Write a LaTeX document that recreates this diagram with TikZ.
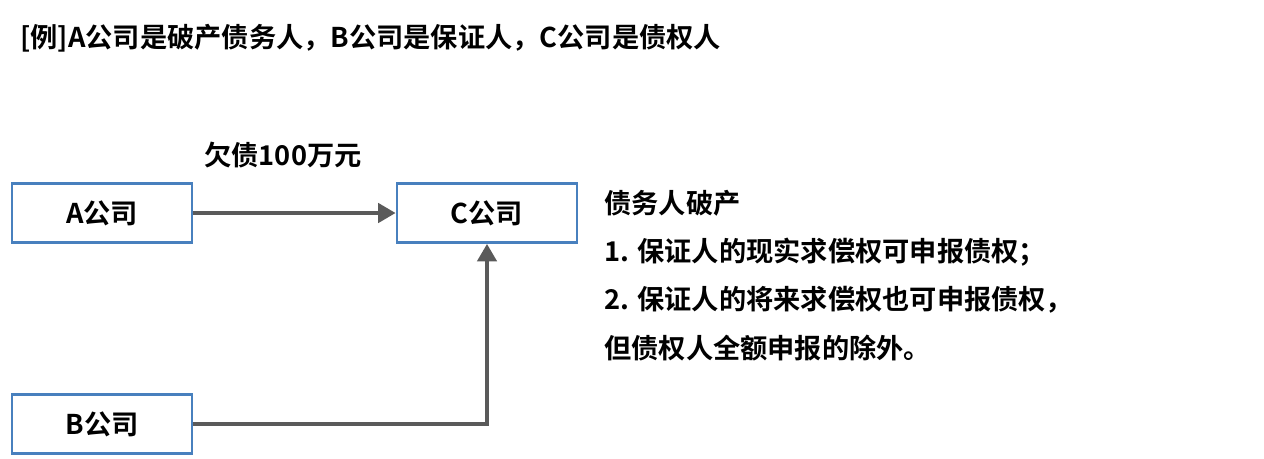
\documentclass[tikz,border=0pt]{standalone}
\usepackage{fontspec}
\setmainfont{Noto Sans CJK SC}[BoldFont={Noto Sans CJK SC Bold}]
\usetikzlibrary{arrows.meta}
\definecolor{boxblue}{RGB}{72,128,190}
\definecolor{linegray}{RGB}{90,90,90}
\begin{document}
\begin{tikzpicture}[x=0.02cm,y=-0.02cm,
  company/.style = {draw=boxblue, line width=1.6pt, minimum width=3.6cm, minimum height=1.18cm, font=\fontsize{15.5pt}{18pt}\selectfont\bfseries},
  txt/.style = {font=\fontsize{15.5pt}{18pt}\selectfont\bfseries, inner sep=0pt},
  link/.style = {draw=linegray, line width=2.2pt}]
\useasboundingbox (0,0) rectangle (1264,458);
\node[txt, anchor=west] (title) at (20,38) {[例]A公司是破产债务人，B公司是保证人，C公司是债权人};
\node[company] (A) at (102,213) {A公司};
\node[company] (C) at (487,213) {C公司};
\node[company] (B) at (102,424) {B公司};
\node[txt] (debt) at (283,155) {欠债100万元};
\node[txt, anchor=west] (r1) at (604,203) {债务人破产};
\node[txt, anchor=west] (r2) at (604,252) {1. 保证人的现实求偿权可申报债权；};
\node[txt, anchor=west] (r3) at (604,300) {2. 保证人的将来求偿权也可申报债权，};
\node[txt, anchor=west] (r4) at (604,348) {但债权人全额申报的除外。};
\draw[link, -{Triangle[length=10pt,width=11pt]}] (A) -- (C);
\draw[link, -{Triangle[length=10pt,width=11pt]}] (B.east) -| (C.south);
\end{tikzpicture}
\end{document}
